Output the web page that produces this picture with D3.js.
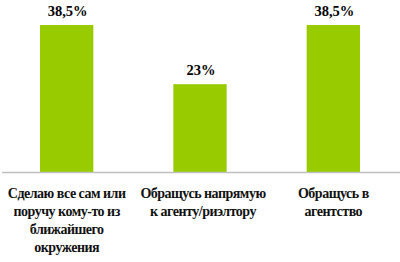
<!doctype html>
<meta charset="utf-8">
<script src="https://d3js.org/d3.v7.min.js"></script>
<body>
<script>
var categories = ["c1", "c2", "c3"];
var labelLines = [
  ["Сделаю все сам или", "поручу кому-то из", "ближайшего", "окружения"],
  ["Обращусь напрямую", "к агенту/риэлтору"],
  ["Обращусь в", "агентство"]
];
var values = [38.5, 23, 38.5];
var valueLabels = ["38,5%", "23%", "38,5%"];

var W = 400, H = 262, base = 172;

d3.select("body").style("margin", "0");
var svg = d3.select("body").append("svg")
  .attr("width", W).attr("height", H)
  .style("display", "block");

var x = d3.scaleBand().domain(categories).range([0, W])
  .paddingInner(0.6).paddingOuter(0.3);
var y = d3.scaleLinear().domain([0, 38.5]).range([base, 25]);

svg.selectAll("rect.bar").data(values).enter().append("rect")
  .attr("class", "bar")
  .attr("x", function(d, i) { return x(categories[i]); })
  .attr("width", x.bandwidth())
  .attr("y", function(d) { return y(d); })
  .attr("height", function(d) { return base - y(d); })
  .attr("fill", "#99cc00");

// baseline
svg.append("line")
  .attr("x1", 2).attr("x2", W).attr("y1", base + 0.5).attr("y2", base + 0.5)
  .attr("stroke", "#bfbfbf").attr("stroke-width", 1.5);

svg.selectAll("text.val").data(values).enter().append("text")
  .attr("class", "val")
  .attr("x", function(d, i) { return x(categories[i]) + x.bandwidth() / 2 + 1; })
  .attr("y", function(d) { return y(d) - 9; })
  .attr("font-family", "Liberation Serif")
  .attr("font-weight", "bold")
  .attr("font-size", 14.5)
  .attr("text-anchor", "middle")
  .text(function(d, i) { return valueLabels[i]; });

// category labels, one text per line
categories.forEach(function(c, i) {
  svg.selectAll("text.cat" + i).data(labelLines[i]).enter().append("text")
    .attr("class", "cat" + i)
    .attr("x", x(c) + x.bandwidth() / 2 + (i == 1 ? 3 : 0))
    .attr("y", function(s, k) { return 198 + k * 18; })
    .attr("font-family", "Liberation Serif")
    .attr("font-weight", "bold")
    .attr("font-size", 14)
    .attr("letter-spacing", -0.5)
    .attr("text-anchor", "middle")
    .attr("fill", "#111")
    .text(function(s) { return s; });
});
</script>
</body>
